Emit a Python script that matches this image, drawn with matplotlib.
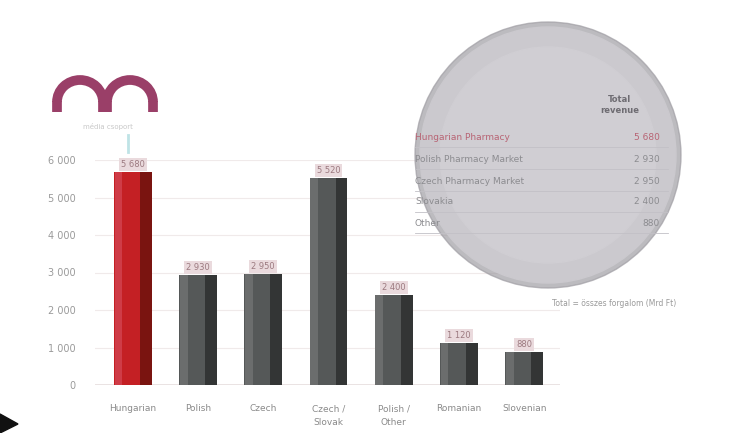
import numpy as np
import matplotlib
matplotlib.use("Agg")
import matplotlib.pyplot as plt
from matplotlib.patches import Circle, Polygon, Arc

# bar data (thousands)
categories = ["Hungarian", "Polish", "Czech", "Czech /\nSlovak", "Polish /\nOther", "Romanian", "Slovenian"]
values = [5680, 2930, 2950, 5520, 2400, 1120, 880]
value_labels = ["5 680", "2 930", "2 950", "5 520", "2 400", "1 120", "880"]
yticks = [0, 1000, 2000, 3000, 4000, 5000, 6000]
ytick_labels = ["0", "1 000", "2 000", "3 000", "4 000", "5 000", "6 000"]

# table inside the magnifier circle
table_rows = ["Hungarian Pharmacy", "Polish Pharmacy Market", "Czech Pharmacy Market", "Slovakia", "Other"]
table_vals = ["5 680", "2 930", "2 950", "2 400", "880"]
table_header = "Total\nrevenue"

W, H = 729, 433
fig = plt.figure(figsize=(7.29, 4.33), dpi=100)

def fx(px):
    return px / W

def fy(py):
    return 1 - py / H

ax = fig.add_axes([fx(95), fy(385), fx(560) - fx(95), fy(160) - fy(385)])
ax.set_facecolor("none")
colors = ["#c42024"] + ["#555858"] * 6
x = np.arange(len(values))
ax.bar(x, values, width=0.58, color=colors, zorder=2)
# darker right side / lighter left side for a bit of shading
ax.bar(x + 0.2, values, width=0.18, color=["#7a1410"] + ["#333535"] * 6, zorder=3)
ax.bar(x - 0.22, values, width=0.12, color=["#d85060"] + ["#7a7c7c"] * 6, alpha=0.6, zorder=3)

for i, (v, lab) in enumerate(zip(values, value_labels)):
    ax.text(i, v + 80, lab, ha="center", va="bottom", fontsize=6, color="#9c7a80",
            bbox=dict(boxstyle="square,pad=0.25", fc="#eadadd", ec="none"), zorder=4)

ax.set_xlim(-0.58, 6.55)
ax.set_ylim(0, 6000)
ax.set_yticks(yticks)
ax.set_yticklabels(ytick_labels, fontsize=7, color="#9a9a9a")
ax.set_xticks(x)
ax.set_xticklabels(categories, fontsize=6.5, color="#8a8a8a", linespacing=1.7)
ax.tick_params(axis="y", length=0, pad=14)
ax.tick_params(axis="x", length=0, pad=14)
ax.grid(axis="y", color="#f0eaea", lw=0.8, zorder=0)
for s in ax.spines.values():
    s.set_visible(False)
ax.axhline(0, color="#e6dede", lw=1.2, zorder=1)

# overlay in pixel coordinates: logo, magnifier, arrow
ov = fig.add_axes([0, 0, 1, 1], zorder=5)
ov.set_xlim(0, W)
ov.set_ylim(H, 0)
ov.axis("off")

# logo "m" made of two arches (y axis is inverted here)
logo_c = "#9a3f68"
for cx0 in (80, 130):
    ov.add_patch(Arc((cx0, 102), 46, 44, theta1=180, theta2=360, lw=7, color=logo_c))
for lx in (57, 103, 107, 153):
    ov.plot([lx, lx], [101, 112], color=logo_c, lw=7, solid_capstyle="butt")
ov.text(108, 126, "m\u00e9dia csoport", fontsize=5, color="#c8c8c8", ha="center", va="center")
ov.plot([128, 128], [135, 152], color="#bfe3e6", lw=2)

# magnifier circle
cx, cy, r = 548, 155, 130
ov.add_patch(Circle((cx, cy), r + 3, color="#a09ea4", alpha=0.7))
ov.add_patch(Circle((cx, cy), r - 2, color="#cbc9ce"))
ov.add_patch(Circle((cx, cy), r - 22, color="#d0ced3"))

ys = [137, 159, 181, 202, 223]
for i, (name, val, yy) in enumerate(zip(table_rows, table_vals, ys)):
    c = "#b86474" if i == 0 else "#8c8c90"
    ov.text(415, yy, name, fontsize=6.5, color=c, va="center")
    ov.text(660, yy, val, fontsize=6.5, color=c, va="center", ha="right")
    ov.plot([415, 668], [yy + 10, yy + 10], color="#c2c0c6", lw=0.6)
ov.text(620, 105, table_header, fontsize=6, color="#6e6c72", ha="center", va="center",
        fontweight="bold", linespacing=1.3)

ov.text(676, 303, "Total = \u00f6sszes forgalom (Mrd Ft)", fontsize=5.5, color="#9a9a9a",
        ha="right", va="center")

ov.add_patch(Polygon([[0, 414], [18, 424], [0, 433]], closed=True, color="#111111"))

fig.savefig("out.png", dpi=100)
